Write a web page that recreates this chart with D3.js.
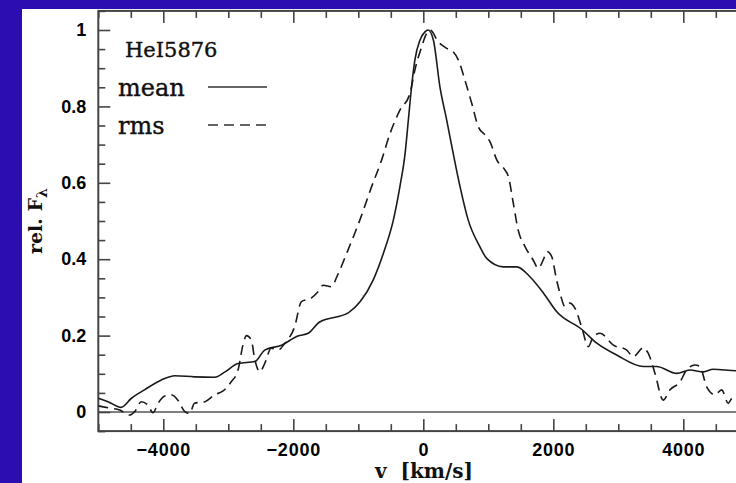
<!DOCTYPE html>
<html>
<head>
<meta charset="utf-8">
<script src="https://cdn.jsdelivr.net/npm/d3@7"></script>
<style>
  body { margin: 0; background: #2b0db0; }
  svg { display: block; }
</style>
</head>
<body>
<svg id="chart" width="736" height="483"></svg>
<script>
// velocity grid (km/s) and relative flux for the mean profile
const meanV = [-5000, -4850, -4650, -4490, -4290, -4030, -3820, -3520, -3210, -3050,
  -2850, -2590, -2440, -2180, -1930, -1770, -1600, -1150, -970, -770, -615, -460,
  -360, -280, -230, -180, -130, -50, 25, 75, 155, 255, 360, 460, 565, 690, 870,
  975, 1230, 1440, 1640, 1850, 2050, 2440, 2670, 2975, 3385, 3590, 3900, 4100,
  4310, 4460, 4820, 5000];
const meanF = [0.036, 0.027, 0.012, 0.036, 0.058, 0.084, 0.095, 0.092, 0.091, 0.105,
  0.127, 0.132, 0.162, 0.175, 0.199, 0.206, 0.235, 0.26, 0.289, 0.346, 0.415, 0.503,
  0.59, 0.677, 0.764, 0.852, 0.921, 0.974, 0.995, 1.0, 0.974, 0.852, 0.764, 0.677,
  0.59, 0.503, 0.433, 0.402, 0.38, 0.38, 0.354, 0.311, 0.263, 0.216, 0.18, 0.149,
  0.119, 0.119, 0.101, 0.11, 0.105, 0.112, 0.108, 0.108];

// rms profile
const rmsV = [-5000, -4820, -4670, -4520, -4440, -4340, -4235, -4160, -4080, -3980,
  -3880, -3775, -3670, -3595, -3520, -3360, -3210, -3080, -2955, -2850, -2775, -2720,
  -2645, -2595, -2515, -2440, -2340, -2235, -2130, -1980, -1875, -1725, -1620, -1540,
  -1410, -1330, -1180, -975, -795, -640, -510, -360, -205, -130, -25, 50, 105, 230,
  360, 460, 540, 640, 745, 845, 950, 1025, 1130, 1255, 1310, 1385, 1460, 1565, 1690,
  1770, 1845, 1905, 1975, 2050, 2105, 2180, 2255, 2335, 2435, 2540, 2615, 2720, 2925,
  3130, 3230, 3385, 3460, 3565, 3690, 3795, 3950, 4050, 4180, 4255, 4360, 4490, 4590,
  4690, 4770, 4900];
const rmsF = [0.016, 0.01, 0.005, -0.008, 0.001, 0.027, 0.018, -0.002, 0.023, 0.042,
  0.045, 0.031, 0.001, -0.004, 0.023, 0.027, 0.045, 0.055, 0.079, 0.11, 0.175, 0.2,
  0.188, 0.14, 0.105, 0.127, 0.167, 0.162, 0.18, 0.223, 0.289, 0.298, 0.315, 0.332,
  0.328, 0.354, 0.415, 0.503, 0.59, 0.66, 0.73, 0.79, 0.834, 0.895, 0.956, 0.991, 1.0,
  0.969, 0.952, 0.943, 0.921, 0.869, 0.808, 0.747, 0.725, 0.708, 0.66, 0.634, 0.616,
  0.546, 0.476, 0.433, 0.398, 0.376, 0.398, 0.42, 0.407, 0.346, 0.31, 0.276, 0.285,
  0.271, 0.223, 0.171, 0.197, 0.206, 0.175, 0.162, 0.145, 0.168, 0.154, 0.101, 0.031,
  0.058, 0.079, 0.11, 0.123, 0.119, 0.066, 0.045, 0.058, 0.023, 0.04, 0.03];

const xMajor = [-4000, -2000, 0, 2000, 4000];
const yMajor = [0, 0.2, 0.4, 0.6, 0.8, 1];
const lineLabel = "HeI5876";
const seriesNames = ["mean", "rms"];

const svg = d3.select("#chart");

//background panels
svg.append("rect").attr("width", 736).attr("height", 483).attr("fill", "#2b0db0");
svg.append("rect").attr("x", 22).attr("y", 9).attr("width", 714).attr("height", 474).attr("fill", "#fff");

const x = d3.scaleLinear().domain([-5000, 5000]).range([98.3, 748.3]);
const y = d3.scaleLinear().domain([-0.05, 1.05]).range([431.1, 10.9]);

const axisCol = "#444";
const g = svg.append("g");

//clip for curves
svg.append("clipPath").attr("id", "plotclip")
  .append("rect")
  .attr("x", x(-5000)).attr("y", y(1.05))
  .attr("width", x(5000) - x(-5000)).attr("height", y(-0.05) - y(1.05));

//zero line
g.append("line")
  .attr("x1", x(-5000)).attr("x2", x(5000))
  .attr("y1", y(0)).attr("y2", y(0))
  .attr("stroke", "#555").attr("stroke-width", 1.5);

const xMinor = d3.range(-5000, 5001, 500).filter(v => !xMajor.includes(v));
const yMinor = d3.range(-0.05, 1.051, 0.05).map(v => +v.toFixed(2)).filter(v => !yMajor.includes(v));

function styleAxis(sel) {
  sel.select(".domain").remove();
  sel.selectAll(".tick line").attr("stroke", axisCol).attr("stroke-width", 1.6);
}

const fmtX = d => d < 0 ? "\u2212" + Math.abs(d) : String(d);

// bottom axis
g.append("g").attr("transform", `translate(0,${y(-0.05)})`)
  .call(d3.axisBottom(x).tickValues(xMajor).tickSize(-12).tickPadding(12).tickFormat(fmtX))
  .call(styleAxis)
  .call(a => a.selectAll("text").attr("font-family", "Liberation Sans, Arial, sans-serif")
    .attr("font-weight", "bold").attr("font-size", 18).attr("fill", "#000").attr("letter-spacing", 0.8));
g.append("g").attr("transform", `translate(0,${y(-0.05)})`)
  .call(d3.axisBottom(x).tickValues(xMinor).tickSize(-7).tickFormat(""))
  .call(styleAxis);

// top axis
g.append("g").attr("transform", `translate(0,${y(1.05)})`)
  .call(d3.axisTop(x).tickValues(xMajor).tickSize(-12).tickFormat(""))
  .call(styleAxis);
g.append("g").attr("transform", `translate(0,${y(1.05)})`)
  .call(d3.axisTop(x).tickValues(xMinor).tickSize(-7).tickFormat(""))
  .call(styleAxis);

// left axis
g.append("g").attr("transform", `translate(${x(-5000)},0)`)
  .call(d3.axisLeft(y).tickValues(yMajor).tickSize(-12).tickPadding(12).tickFormat(d => d === 0 || d === 1 ? String(d) : d.toFixed(1)))
  .call(styleAxis)
  .call(a => a.selectAll("text").attr("font-family", "Liberation Sans, Arial, sans-serif")
    .attr("font-weight", "bold").attr("font-size", 18).attr("fill", "#000"));
g.append("g").attr("transform", `translate(${x(-5000)},0)`)
  .call(d3.axisLeft(y).tickValues(yMinor).tickSize(-7).tickFormat(""))
  .call(styleAxis);

// right axis
g.append("g").attr("transform", `translate(${x(5000)},0)`)
  .call(d3.axisRight(y).tickValues(yMajor).tickSize(-12).tickFormat(""))
  .call(styleAxis);
g.append("g").attr("transform", `translate(${x(5000)},0)`)
  .call(d3.axisRight(y).tickValues(yMinor).tickSize(-7).tickFormat(""))
  .call(styleAxis);

// frame
g.append("rect")
  .attr("x", x(-5000)).attr("y", y(1.05))
  .attr("width", x(5000) - x(-5000)).attr("height", y(-0.05) - y(1.05))
  .attr("fill", "none").attr("stroke", axisCol).attr("stroke-width", 2);

//curves
const line = d3.line().x(d => x(d[0])).y(d => y(d[1])).curve(d3.curveMonotoneX);
const meanData = meanV.map((v, i) => [v, meanF[i]]);
const rmsData = rmsV.map((v, i) => [v, rmsF[i]]);

const curves = g.append("g").attr("clip-path", "url(#plotclip)");
curves.append("path").datum(meanData).attr("d", line)
  .attr("fill", "none").attr("stroke", "#1a1a1a").attr("stroke-width", 1.6);
curves.append("path").datum(rmsData).attr("d", line)
  .attr("fill", "none").attr("stroke", "#1a1a1a").attr("stroke-width", 1.6)
  .attr("stroke-dasharray", "10,6");

//legend
const serif = "DejaVu Serif, serif";
g.append("text").attr("x", 125).attr("y", 57).text(lineLabel)
  .attr("font-family", serif).attr("font-size", 21).attr("fill", "#111")
  .attr("stroke", "#111").attr("stroke-width", 0.4);
const legY = [87, 125];
seriesNames.forEach((name, i) => {
  g.append("text").attr("x", 118).attr("y", legY[i] + 9).text(name)
    .attr("font-family", serif).attr("font-size", 24).attr("fill", "#111")
    .attr("stroke", "#111").attr("stroke-width", 0.4);
  g.append("line").attr("x1", 208).attr("x2", 267).attr("y1", legY[i]).attr("y2", legY[i])
    .attr("stroke", "#333").attr("stroke-width", 1.6)
    .attr("stroke-dasharray", i === 1 ? "10,6" : null);
});

// axis titles
g.append("text").attr("x", 424).attr("y", 478).attr("text-anchor", "middle")
  .attr("font-family", serif).attr("font-weight", "bold").attr("font-size", 20).attr("fill", "#111")
  .attr("xml:space", "preserve").text("v  [km/s]");

const yt = g.append("text").attr("transform", "translate(42,254) rotate(-90)")
  .attr("font-family", serif).attr("font-weight", "bold").attr("font-size", 19).attr("fill", "#111");
yt.append("tspan").text("rel. F");
yt.append("tspan").attr("dy", 5).attr("font-size", 14).text("\u03bb");
</script>
</body>
</html>
